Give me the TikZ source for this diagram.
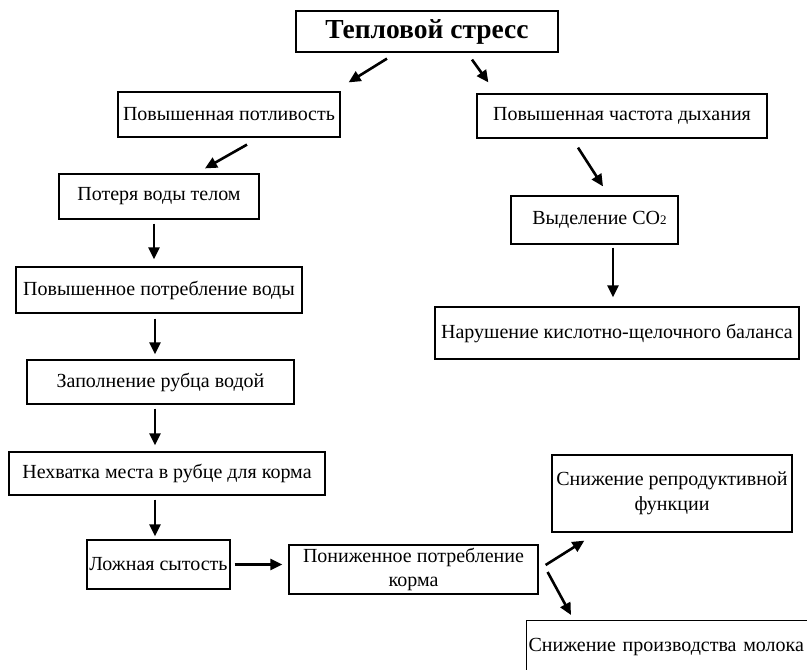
\documentclass[tikz,border=0pt]{standalone}
\usepackage{fontspec}
\setmainfont{Liberation Serif}
\usetikzlibrary{arrows.meta}
\tikzset{
  box/.style={draw, line width=1.2pt, inner sep=2pt, font=\fontsize{20}{24.5}\selectfont, align=center},
  arr/.style={line width=2.6pt, -{Triangle[length=12pt,width=11pt]}},
}
\begin{document}
\begin{tikzpicture}[x=1pt,y=-1pt]
\useasboundingbox (0,0) rectangle (807,670);
\clip (0,0) rectangle (807,670);
\node[box, minimum width=262pt, minimum height=41pt, font=\bfseries\fontsize{27.5}{30}\selectfont] (title) at (427,31.5) {Тепловой стресс};
\node[box, minimum width=222pt, minimum height=45pt] (potl) at (229,114.5) {Повышенная потливость};
\node[box, minimum width=290pt, minimum height=44pt] (chast) at (622,116) {Повышенная частота дыхания};
\node[box, minimum width=200pt, minimum height=45pt] (poter) at (159,196.5) {Потеря воды телом};
\node[box, minimum width=167pt, minimum height=48pt] (co2) at (594.5,220) {\hspace*{10pt}Выделение CO{\fontsize{13}{13}\selectfont 2}};
\node[box, minimum width=286pt, minimum height=46pt] (potrv) at (159,290) {Повышенное потребление воды};
\node[box, minimum width=364pt, minimum height=52pt] (narush) at (617,333) {Нарушение кислотно-щелочного баланса};
\node[box, minimum width=267pt, minimum height=44pt] (zapoln) at (160.5,382) {Заполнение рубца водой};
\node[box, minimum width=316pt, minimum height=43pt] (nehv) at (167,473.5) {Нехватка места в рубце для корма};
\node[box, minimum width=143pt, minimum height=49pt] (lozh) at (158.5,564.5) {Ложная сытость};
\node[box, minimum width=249pt, minimum height=49pt] (ponizh) at (413.5,569.5) {Пониженное потребление\\корма};
\node[box, minimum width=240pt, minimum height=77pt] (repr) at (672,493.5) {Снижение репродуктивной\\функции};
\node[box, anchor=north west, minimum height=52pt, text width=296pt, align=left, inner xsep=2pt] (moloko) at (526,620) {Снижение производства молока};

\draw[arr] ([xshift=-40pt,yshift=-6pt]title.south) -- ([xshift=8pt,yshift=9pt]potl.north east);
\draw[arr] ([xshift=45pt,yshift=-7pt]title.south) -- ([xshift=12pt,yshift=11pt]chast.north west);
\draw[arr] ([xshift=18pt,yshift=-7pt]potl.south) -- ([xshift=46pt,yshift=5pt]poter.north);
\draw[arr] ([xshift=-5pt,yshift=-4pt]poter.south) -- ([xshift=-5pt,yshift=7pt]potrv.north);
\draw[arr] ([xshift=-4pt,yshift=-5pt]potrv.south) -- ([xshift=-5.5pt,yshift=5pt]zapoln.north);
\draw[arr] ([xshift=-5.5pt,yshift=-4pt]zapoln.south) -- ([xshift=-12pt,yshift=6pt]nehv.north);
\draw[arr] ([xshift=-12pt,yshift=-4pt]nehv.south) -- ([xshift=-3.5pt,yshift=3pt]lozh.north);
\draw[arr] ([xshift=4pt]lozh.east) -- ([xshift=-6pt]lozh.east -| ponizh.west);
\draw[arr] ([xshift=-44pt,yshift=-9pt]chast.south) -- ([xshift=8.5pt,yshift=9pt]co2.north);
\draw[arr] ([xshift=18.5pt,yshift=-3pt]co2.south) -- ([xshift=-4pt,yshift=9pt]narush.north);
\draw[arr] ([xshift=7pt,yshift=4.5pt]ponizh.east) -- ([xshift=33pt,yshift=-8pt]repr.south west);
\draw[arr] ([xshift=9pt,yshift=-2.5pt]ponizh.east) -- ([xshift=45pt,yshift=5pt]moloko.north west);
\end{tikzpicture}
\end{document}
